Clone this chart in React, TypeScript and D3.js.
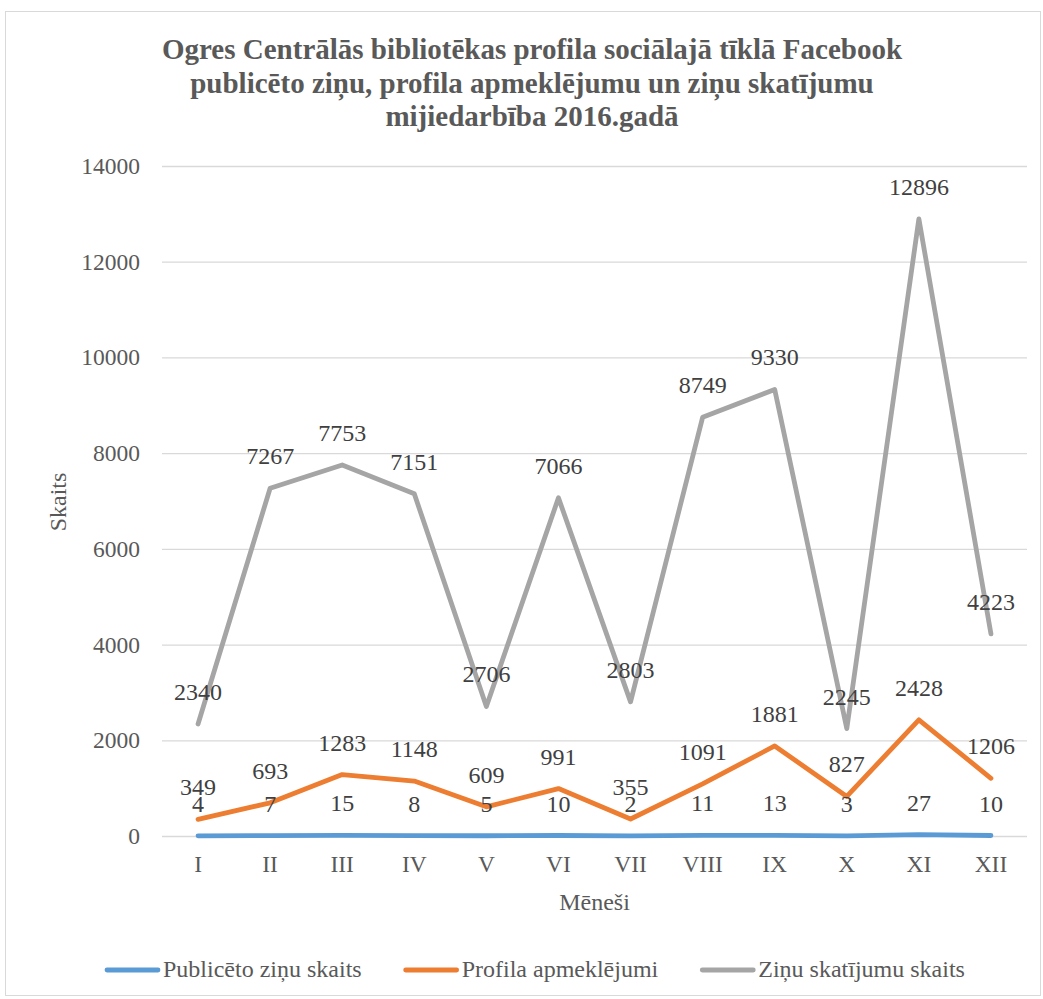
import { useEffect, useRef } from 'react';
import * as d3 from 'd3';

const months = ['I', 'II', 'III', 'IV', 'V', 'VI', 'VII', 'VIII', 'IX', 'X', 'XI', 'XII'];
const posts = [4, 7, 15, 8, 5, 10, 2, 11, 13, 3, 27, 10];
const visits = [349, 693, 1283, 1148, 609, 991, 355, 1091, 1881, 827, 2428, 1206];
const views = [2340, 7267, 7753, 7151, 2706, 7066, 2803, 8749, 9330, 2245, 12896, 4223];
const yTicks = [0, 2000, 4000, 6000, 8000, 10000, 12000, 14000];

const seriesNames = ['Publicēto ziņu skaits', 'Profila apmeklējumi', 'Ziņu skatījumu skaits'];
const seriesColors = ['#5B9BD5', '#ED7D31', '#A5A5A5'];
const titleLines = [
  'Ogres Centrālās bibliotēkas profila sociālajā tīklā Facebook',
  'publicēto ziņu, profila apmeklējumu un ziņu skatījumu',
  'mijiedarbība 2016.gadā',
];

const W = 1043;
const H = 999;
const FONT = '"Liberation Serif", "Times New Roman", serif';

export default function App() {
  const svgRef = useRef<SVGSVGElement>(null);

  useEffect(() => {
    if (!svgRef.current) return;
    const svg = d3.select(svgRef.current);
    svg.selectAll('*').remove();

    // outer border
    svg.append('rect')
      .attr('x', 5.5).attr('y', 11.5)
      .attr('width', W - 8).attr('height', H - 15)
      .attr('fill', '#fff').attr('stroke', '#D9D9D9');

    const left = 162, right = 1027, top = 166, bottom = 836;

    const x = d3.scalePoint<string>().domain(months).range([left, right]).padding(0.5);
    const y = d3.scaleLinear().domain([0, 14000]).range([bottom, top]);

    // title
    svg.append('g').selectAll('text')
      .data(titleLines)
      .enter().append('text')
      .attr('x', 532)
      .attr('y', (d, i) => 59 + i * 33.5)
      .attr('text-anchor', 'middle')
      .style('font-family', FONT)
      .style('font-size', '29px')
      .style('font-weight', 'bold')
      .attr('fill', '#595959')
      .text(d => d);

    // grid
    const grid = svg.append('g')
      .attr('transform', `translate(${left},0)`)
      .call(d3.axisLeft(y).tickValues(yTicks).tickSize(-(right - left)).tickFormat(() => ''));
    grid.select('.domain').remove();
    grid.selectAll('.tick line').attr('stroke', '#D9D9D9').attr('stroke-width', 1.3);

    // y tick labels
    svg.append('g').selectAll('text')
      .data(yTicks)
      .enter().append('text')
      .attr('x', 140)
      .attr('y', d => y(d) + 8)
      .attr('text-anchor', 'end')
      .style('font-family', FONT)
      .style('font-size', '23.5px')
      .attr('fill', '#595959')
      .text(d => d);

    // x tick labels
    svg.append('g').selectAll('text')
      .data(months)
      .enter().append('text')
      .attr('x', d => x(d) as number)
      .attr('y', 872)
      .attr('text-anchor', 'middle')
      .style('font-family', FONT)
      .style('font-size', '23.5px')
      .attr('fill', '#595959')
      .text(d => d);

    // axis titles
    svg.append('text')
      .attr('x', (left + right) / 2)
      .attr('y', 910)
      .attr('text-anchor', 'middle')
      .style('font-family', FONT)
      .style('font-size', '24px')
      .attr('fill', '#595959')
      .text('Mēneši');

    svg.append('text')
      .attr('transform', `translate(66,502) rotate(-90)`)
      .attr('text-anchor', 'middle')
      .style('font-family', FONT)
      .style('font-size', '24px')
      .attr('fill', '#595959')
      .text('Skaits');

    const allSeries = [posts, visits, views];
    const line = d3.line<number>()
      .x((d, i) => x(months[i]) as number)
      .y(d => y(d));

    allSeries.forEach((vals, si) => {
      svg.append('path')
        .datum(vals)
        .attr('d', line)
        .attr('fill', 'none')
        .attr('stroke', seriesColors[si])
        .attr('stroke-width', 4.8)
        .attr('stroke-linecap', 'round')
        .attr('stroke-linejoin', 'round');
    });

    // data labels
    allSeries.forEach(vals => {
      svg.append('g').selectAll('text')
        .data(vals)
        .enter().append('text')
        .attr('x', (d, i) => x(months[i]) as number)
        .attr('y', d => y(d) - 24)
        .attr('text-anchor', 'middle')
        .style('font-family', FONT)
        .style('font-size', '24px')
        .attr('fill', '#404040')
        .text(d => d);
    });

    // legend
    const lg = svg.append('g');
    let lx = 105;
    seriesNames.forEach((name, i) => {
      lg.append('line')
        .attr('x1', lx + 2).attr('x2', lx + 53)
        .attr('y1', 970).attr('y2', 970)
        .attr('stroke', seriesColors[i])
        .attr('stroke-width', 4.8)
        .attr('stroke-linecap', 'round');
      const t = lg.append('text')
        .attr('x', lx + 58)
        .attr('y', 977)
        .style('font-family', FONT)
        .style('font-size', '24px')
        .attr('fill', '#595959')
        .text(name);
      const tw = (t.node() as SVGTextElement).getComputedTextLength();
      lx = lx + 58 + tw + 42;
    });
  }, []);

  return (
    <div>
      <svg ref={svgRef} width={W} height={H} style={{ display: 'block', position: 'absolute', left: 0, top: 0 }} />
    </div>
  );
}
